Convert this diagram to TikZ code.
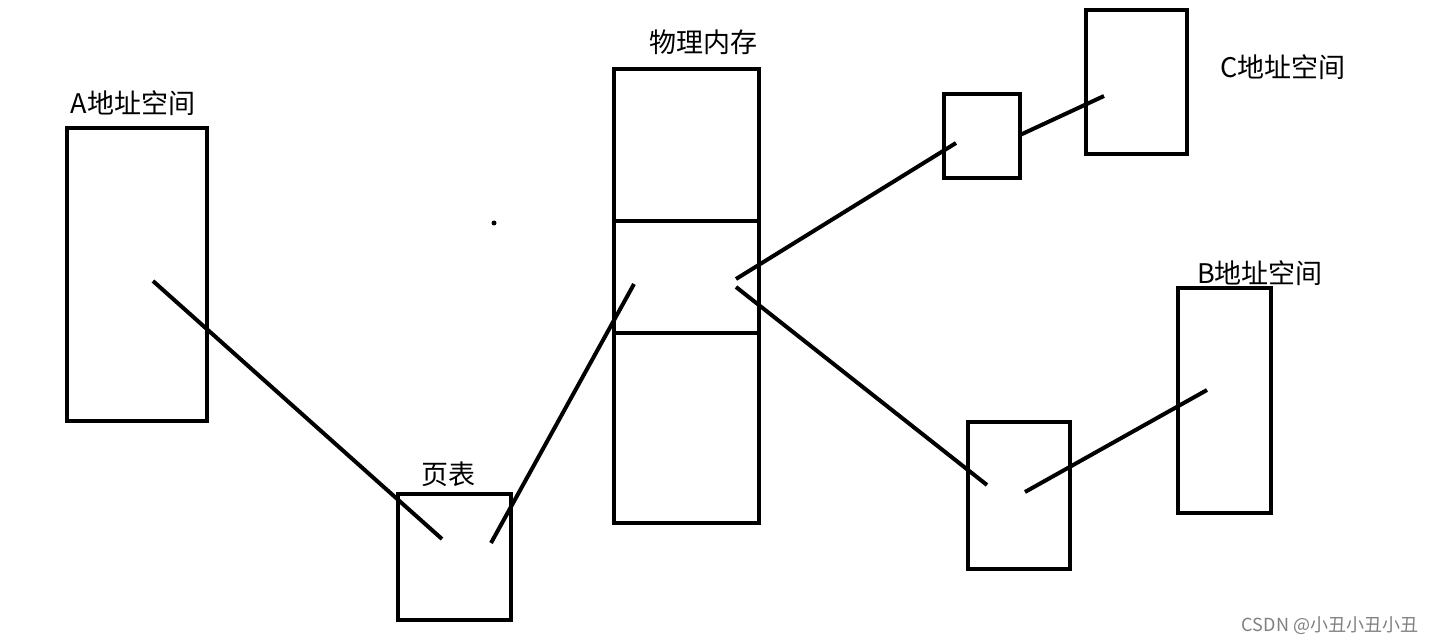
\documentclass[tikz,border=0pt]{standalone}
\usepackage{fontspec}
\newfontfamily\cjk{Noto Sans CJK SC}
\begin{document}
\begin{tikzpicture}[x=1pt,y=-1pt,
  box/.style={draw=black,line width=4pt},
  link/.style={draw=black,line width=4pt},
  lbl/.style={font=\cjk\fontsize{27}{30}\selectfont,inner sep=0pt}]
\useasboundingbox[fill=white] (0,0) rectangle (1441,644);
\draw[box] (67,128) rectangle (207,421);
\draw[box] (398,494) rectangle (511,620);
\draw[box] (614,69) rectangle (759,523);
\draw[box] (614,221) -- (759,221);
\draw[box] (614,333) -- (759,333);
\draw[box] (944,94) rectangle (1020,178);
\draw[box] (1086,10) rectangle (1187,154);
\draw[box] (968,422) rectangle (1070,569);
\draw[box] (1178,288) rectangle (1271,513);
\coordinate (a1) at (153,281); \coordinate (p1) at (442,539);
\coordinate (p2) at (491,543); \coordinate (m1) at (634,284);
\coordinate (m2) at (736,279); \coordinate (cs) at (956,143);
\coordinate (cs2) at (1020,135); \coordinate (c1) at (1104,96);
\coordinate (m3) at (736,287); \coordinate (bs) at (987,485);
\coordinate (bs2) at (1025,492); \coordinate (b1) at (1207,390);
\draw[link] (a1) -- (p1);
\draw[link] (p2) -- (m1);
\draw[link] (m2) -- (cs);
\draw[link] (cs2) -- (c1);
\draw[link] (m3) -- (bs);
\draw[link] (bs2) -- (b1);
\fill (494,223) circle (2.5);
\node[lbl] (la) at (133,103) {A地址空间};
\node[lbl] (lp) at (448,474) {页表};
\node[lbl] (lm) at (703,42) {物理内存};
\node[lbl] (lc) at (1283,67) {C地址空间};
\node[lbl] (lb) at (1260,273) {B地址空间};
\node[font=\cjk\fontsize{18}{20}\selectfont,text=gray,inner sep=0pt] (cr) at (1330,626) {CSDN @小丑小丑小丑};
\end{tikzpicture}
\end{document}
